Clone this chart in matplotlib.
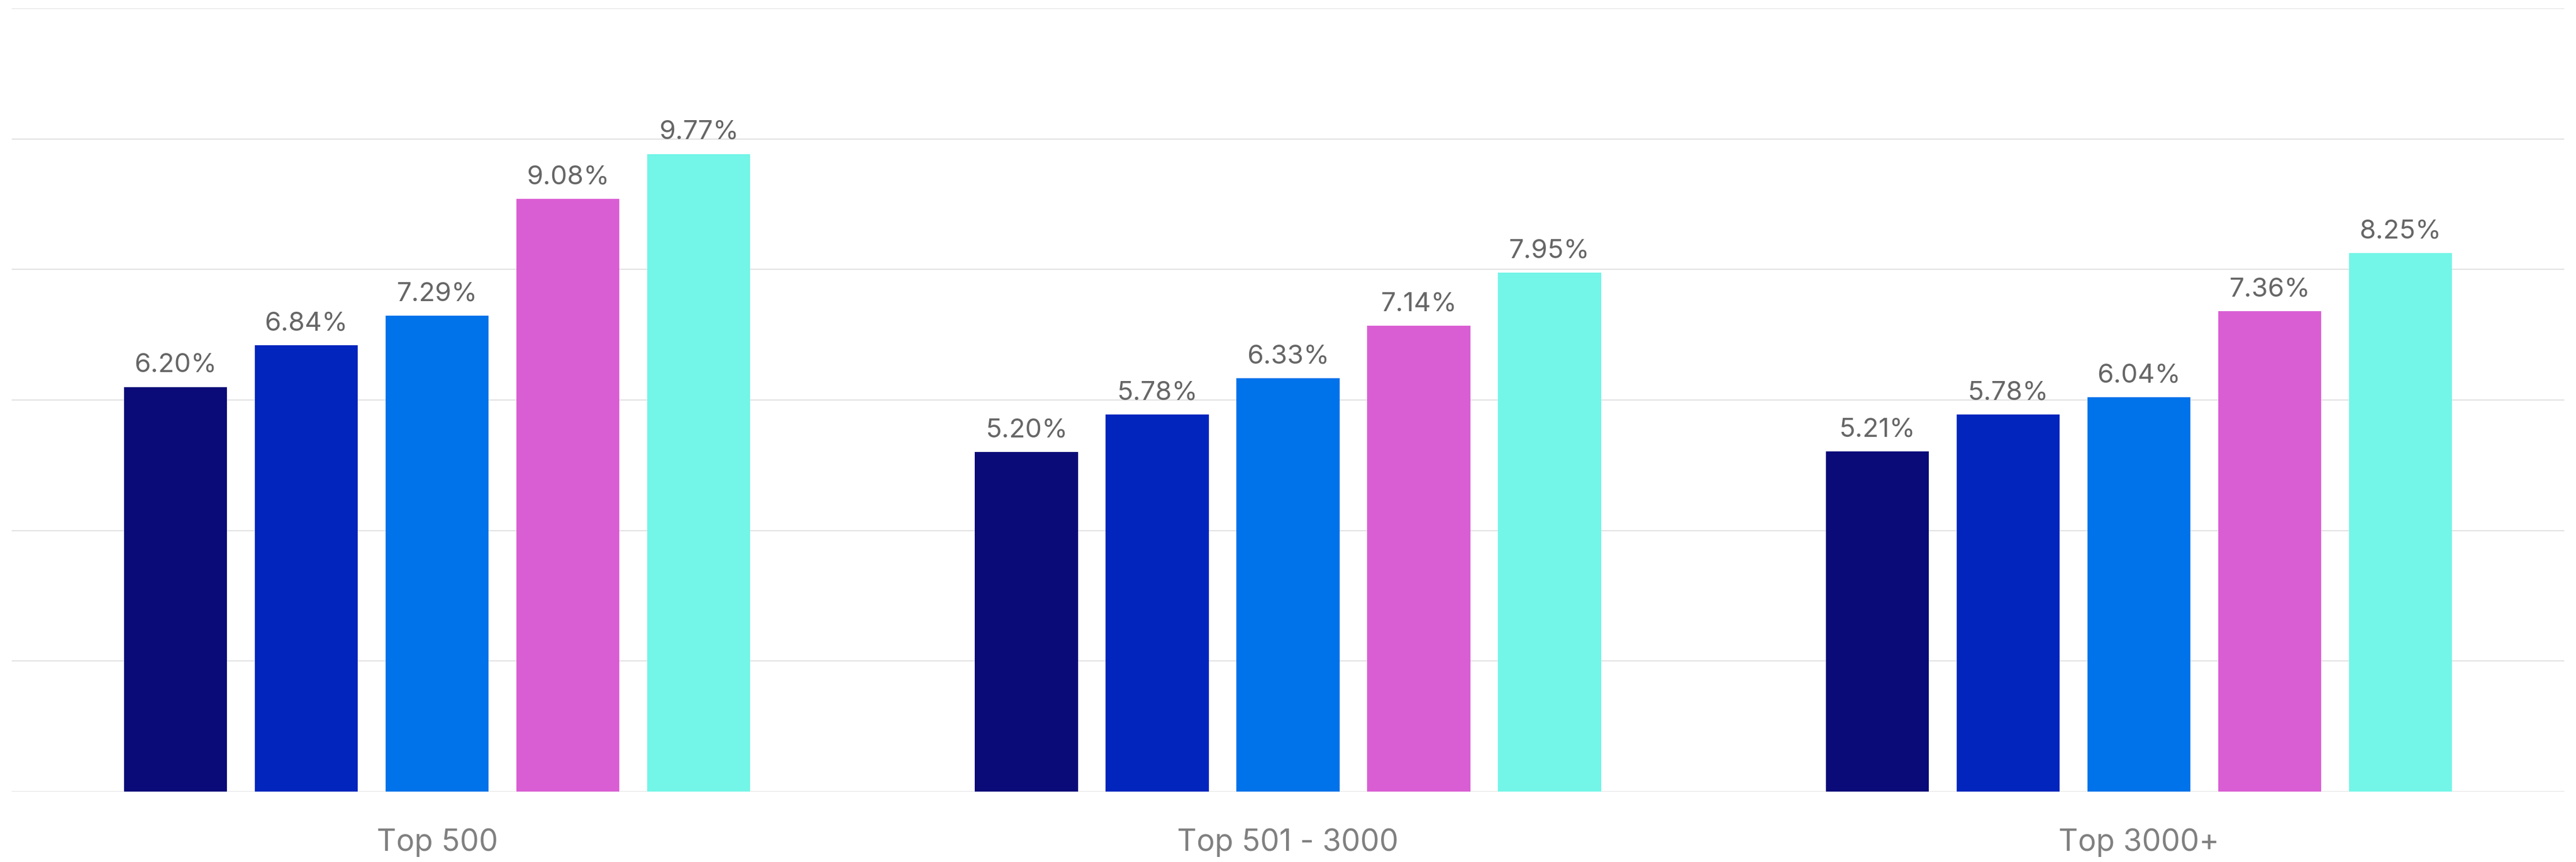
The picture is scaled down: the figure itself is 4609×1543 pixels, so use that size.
import matplotlib
matplotlib.use("Agg")
import matplotlib.pyplot as plt
import numpy as np

groups = ["Top 500", "Top 501 - 3000", "Top 3000+"]
series_colors = ["#0a0a78", "#0225bd", "#0072ea", "#da5ed3", "#73f5e7"]
values = [
    [6.20, 5.20, 5.21],
    [6.84, 5.78, 5.78],
    [7.29, 6.33, 6.04],
    [9.08, 7.14, 7.36],
    [9.77, 7.95, 8.25],
]

plt.rcParams['font.family'] = ['Inter', 'DejaVu Sans']

fig = plt.figure(figsize=(46.09, 15.43), dpi=100)
ax = fig.add_axes([21 / 4609, 126 / 1543, 4567 / 4609, 1402 / 1543])

x = np.arange(len(groups))
pitch = 0.1537
width = 0.121
for i, (vals, col) in enumerate(zip(values, series_colors)):
    pos = x + (i - 2) * pitch
    bars = ax.bar(pos, vals, width=width, color=col, zorder=3)
    for b, v in zip(bars, vals):
        ax.annotate(f"{v:.2f}%", (b.get_x() + b.get_width() / 2, v),
                    xytext=(0, 12), textcoords="offset points",
                    ha="center", va="bottom", fontsize=34, color="#666666")

ax.set_xlim(-0.5, 2.5)
ax.set_ylim(0, 12)
ax.set_yticks(np.arange(0, 13, 2))
ax.yaxis.grid(True, color="#e2e2e2", linewidth=1.5, zorder=0)
ax.set_axisbelow(True)
ax.tick_params(axis="y", left=False, labelleft=False)
ax.tick_params(axis="x", bottom=False, pad=44)
ax.set_xticks(x)
ax.set_xticklabels(groups, fontsize=39, color="#808080")
for s in ax.spines.values():
    s.set_visible(False)

fig.savefig("out.png", dpi=100, facecolor="white")
